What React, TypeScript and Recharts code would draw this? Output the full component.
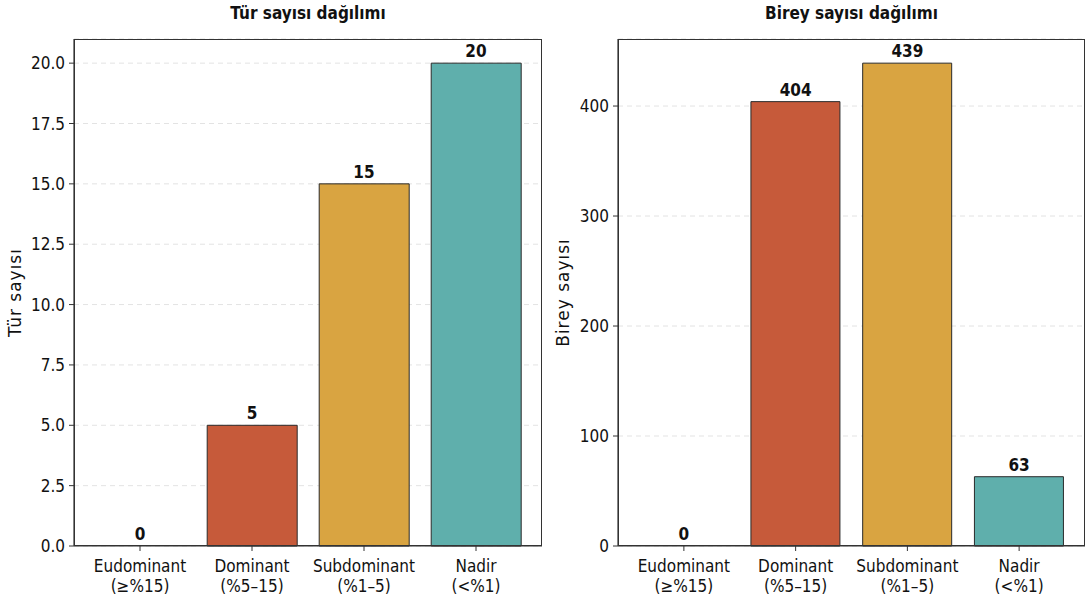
import React from 'react';
import { ComposedChart, Bar, Line, XAxis, YAxis, CartesianGrid, Cell, LabelList } from 'recharts';

const categories = ['Eudominant', 'Dominant', 'Subdominant', 'Nadir'];
const ranges = ['(≥%15)', '(%5–15)', '(%1–5)', '(<%1)'];
const speciesCounts = [0, 5, 15, 20];
const individualCounts = [0, 404, 439, 63];
const colors = ['#8E2C1F', '#C65A3A', '#D9A441', '#5FAFAC'];
const speciesTicks = [0, 2.5, 5, 7.5, 10, 12.5, 15, 17.5, 20];
const individualTicks = [0, 100, 200, 300, 400];

const COND = "'DejaVu Sans Condensed', 'DejaVu Sans', sans-serif";
const WIDE = "'DejaVu Sans', sans-serif";
const PLOT_TOP = 39;
const PLOT_H = 507;

const CatTick = (props: any) => {
  const { x, y, payload } = props;
  const i = payload.index;
  return (
    <g transform={`translate(${x},${y})`}>
      <text textAnchor="middle" fontFamily={COND} fontStretch="condensed" fontSize={17} fill="#111">
        <tspan x={0} dy={19}>{categories[i]}</tspan>
        <tspan x={0} dy={20}>{ranges[i]}</tspan>
      </text>
    </g>
  );
};

// labels sit on an invisible line so zero-height bars still get their "0"
const ValueLabel = (props: any) => {
  const { x, y, width, value } = props;
  return (
    <text
      x={x + (width || 0) / 2}
      y={y - 6}
      textAnchor="middle"
      fontFamily={COND}
      fontStretch="condensed"
      fontWeight="bold"
      fontSize={17}
      fill="#111"
    >
      {value}
    </text>
  );
};

interface PanelProps {
  title: string;
  yLabel: string;
  values: number[];
  max: number;
  ticks: number[];
  fmt: (v: number) => string;
  left: number;
  width: number;
  yWidth: number;
  labelOffset: number;
}

const Panel: React.FC<PanelProps> = ({ title, yLabel, values, max, ticks, fmt, left, width, yWidth, labelOffset }) => {
  const data = categories.map((c, i) => ({ name: c, value: values[i] }));
  const plotWidth = width - yWidth - 1;
  return (
    <div style={{ position: 'absolute', left, top: 0, width, height: 602 }}>
      <div
        style={{
          position: 'absolute',
          left: yWidth,
          width: plotWidth,
          top: 3,
          textAlign: 'center',
          fontFamily: COND,
          fontStretch: 'condensed',
          fontWeight: 'bold',
          fontSize: 17,
          color: '#111',
        }}
      >
        {title}
      </div>
      <ComposedChart
        width={width}
        height={602}
        data={data}
        margin={{ top: PLOT_TOP, right: 1, left: 0, bottom: 0 }}
        barCategoryGap="10%"
      >
        <CartesianGrid vertical={false} stroke="#e3e3e3" strokeDasharray="5 4" />
        <XAxis
          dataKey="name"
          height={56}
          padding={{ left: 10, right: 10 }}
          tick={<CatTick />}
          tickSize={5}
          stroke="#333"
          axisLine={{ stroke: '#333', strokeWidth: 1.2 }}
          interval={0}
        />
        <YAxis
          domain={[0, max]}
          ticks={ticks}
          tickFormatter={fmt}
          width={yWidth}
          tickSize={5}
          tickMargin={4}
          stroke="#333"
          axisLine={{ stroke: '#333', strokeWidth: 1.2 }}
          tick={{ fontFamily: COND, fontStretch: 'condensed', fontSize: 17, fill: '#111' }}
          label={{
            value: yLabel,
            angle: -90,
            position: 'insideLeft',
            offset: labelOffset,
            style: { fontFamily: WIDE, fontSize: 17, letterSpacing: 1, fill: '#111', textAnchor: 'middle' },
          }}
        />
        <Bar dataKey="value" stroke="#2a2a2a" strokeWidth={1} isAnimationActive={false}>
          {data.map((d, i) => (
            <Cell key={d.name} fill={colors[i]} />
          ))}
        </Bar>
        <Line dataKey="value" stroke="none" dot={false} activeDot={false} isAnimationActive={false}>
          <LabelList dataKey="value" content={<ValueLabel />} />
        </Line>
      </ComposedChart>
      <div
        style={{
          position: 'absolute',
          left: yWidth,
          top: PLOT_TOP,
          width: plotWidth,
          height: PLOT_H,
          border: '1.2px solid #333',
          boxSizing: 'border-box',
          pointerEvents: 'none',
        }}
      />
    </div>
  );
};

export default function App() {
  return (
    <div style={{ position: 'fixed', left: 0, top: 0, width: 1086, height: 602, background: '#fff' }}>
      <Panel
        title="Tür sayısı dağılımı"
        yLabel="Tür sayısı"
        values={speciesCounts}
        max={21}
        ticks={speciesTicks}
        fmt={(v) => v.toFixed(1)}
        left={0}
        width={543}
        yWidth={74}
        labelOffset={15}
      />
      <Panel
        title="Birey sayısı dağılımı"
        yLabel="Birey sayısı"
        values={individualCounts}
        max={460.95}
        ticks={individualTicks}
        fmt={(v) => String(v)}
        left={545}
        width={541}
        yWidth={73}
        labelOffset={18}
      />
    </div>
  );
}
